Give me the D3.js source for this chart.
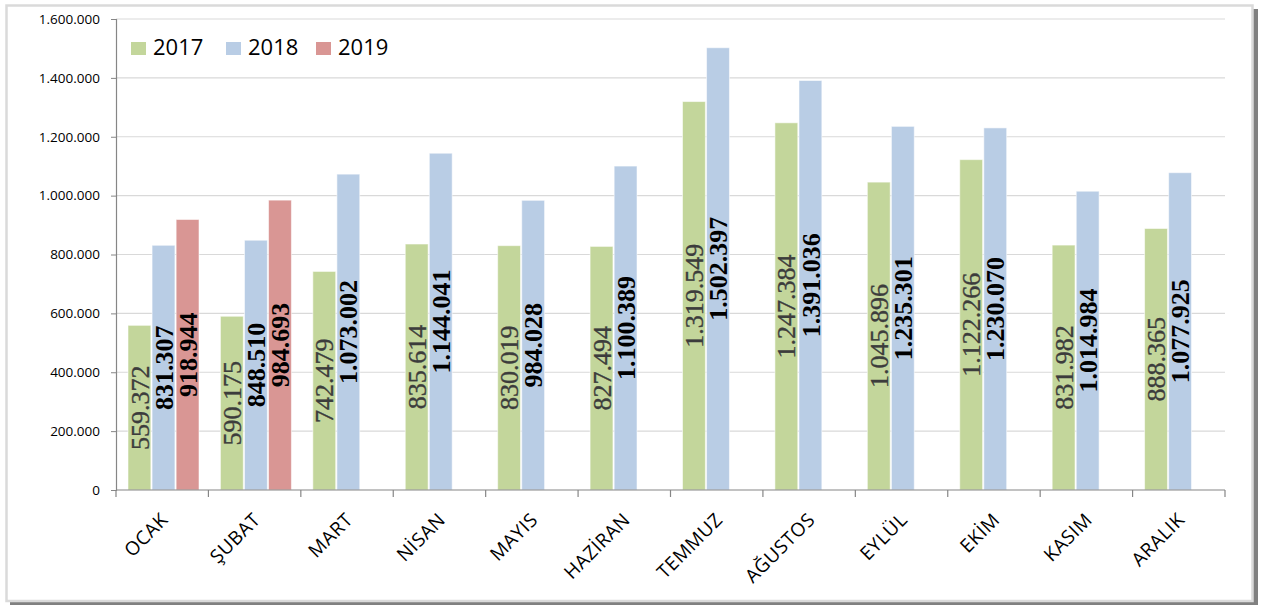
<!DOCTYPE html>
<html>
<head>
<meta charset="utf-8">
<script src="https://cdn.jsdelivr.net/npm/d3@7"></script>
<style>
  body { margin: 0; background: #fff; }
  svg { display: block; }
</style>
</head>
<body>
<div id="chart"></div>
<script>
const months = ['OCAK', 'ŞUBAT', 'MART', 'NİSAN', 'MAYIS', 'HAZİRAN', 'TEMMUZ', 'AĞUSTOS', 'EYLÜL', 'EKİM', 'KASIM', 'ARALIK'];
const series = ['2017', '2018', '2019'];
const values2017 = [559372, 590175, 742479, 835614, 830019, 827494, 1319549, 1247384, 1045896, 1122266, 831982, 888365];
const values2018 = [831307, 848510, 1073002, 1144041, 984028, 1100389, 1502397, 1391036, 1235301, 1230070, 1014984, 1077925];
const values2019 = [918944, 984693, null, null, null, null, null, null, null, null, null, null];
const yTicks = [0, 200000, 400000, 600000, 800000, 1000000, 1200000, 1400000, 1600000];

const colors = { '2017': '#c3d69b', '2018': '#b9cde5', '2019': '#d99694' };
const labelStyle = {
  '2017': { fill: '#3c3c3c', weight: 'normal', stroke: 0.35 },
  '2018': { fill: '#000', weight: 'bold', stroke: 0 },
  '2019': { fill: '#000', weight: 'bold', stroke: 0 }
};

const width = 1272;
const height = 606;
const plot = { left: 116, right: 1225, top: 19, bottom: 490 };

const locale = d3.formatLocale({ decimal: ',', thousands: '.', grouping: [3], currency: ['', ''] });
const fmt = locale.format(',d');

const svg = d3.select('#chart')
  .append('svg')
  .attr('width', width)
  .attr('height', height);

// FRAME WITH SHADOW
svg.append('rect')
  .attr('x', 10).attr('y', 9)
  .attr('width', 1248).attr('height', 596)
  .attr('fill', '#808080');

svg.append('rect')
  .attr('x', 6.5).attr('y', 5.5)
  .attr('width', 1246).attr('height', 595.5)
  .attr('fill', '#fff')
  .attr('stroke', '#dadada')
  .attr('stroke-width', 2.5);

// SCALES
const x0 = d3.scaleBand()
  .domain(months)
  .range([plot.left, plot.right])
  .padding(0);

const x1 = d3.scaleBand()
  .domain(series)
  .range([12, 83])
  .paddingInner(0.05);

const y = d3.scaleLinear()
  .domain([0, 1600000])
  .range([plot.bottom, plot.top]);

// GRIDLINES
svg.append('g')
  .selectAll('line')
  .data(yTicks.filter(d => d > 0))
  .enter()
  .append('line')
  .attr('x1', plot.left)
  .attr('x2', plot.right)
  .attr('y1', d => y(d))
  .attr('y2', d => y(d))
  .attr('stroke', '#d9d9d9')
  .attr('stroke-width', 1.2);

// BARS
const rows = months.map((m, i) => ({
  month: m,
  values: [
    { key: '2017', value: values2017[i] },
    { key: '2018', value: values2018[i] },
    { key: '2019', value: values2019[i] }
  ].filter(d => d.value != null)
}));

const groups = svg.append('g')
  .selectAll('g')
  .data(rows)
  .enter()
  .append('g')
  .attr('transform', d => `translate(${x0(d.month)}, 0)`);

groups.selectAll('rect')
  .data(d => d.values)
  .enter()
  .append('rect')
  .attr('x', d => x1(d.key))
  .attr('y', d => y(d.value))
  .attr('width', x1.bandwidth())
  .attr('height', d => y(0) - y(d.value))
  .attr('fill', d => colors[d.key])
  .attr('stroke', 'rgba(255,255,255,0.55)')
  .attr('stroke-width', 1);

// BAR LABELS (rotated, centred in bar)
groups.selectAll('text')
  .data(d => d.values)
  .enter()
  .append('text')
  .attr('transform', d => {
    const cx = x1(d.key) + x1.bandwidth() / 2;
    const cy = (y(d.value) + y(0)) / 2;
    return `translate(${cx}, ${cy}) rotate(-90)`;
  })
  .attr('text-anchor', 'middle')
  .attr('dy', '0.35em')
  .style('font-family', '"Liberation Serif", "Times New Roman", serif')
  .style('font-size', '26px')
  .style('font-weight', d => labelStyle[d.key].weight)
  .attr('fill', d => labelStyle[d.key].fill)
  .attr('stroke', d => labelStyle[d.key].fill)
  .attr('stroke-width', d => labelStyle[d.key].stroke)
  .text(d => fmt(d.value));

// Y AXIS
const yAxis = d3.axisLeft(y)
  .tickValues(yTicks)
  .tickSize(5)
  .tickPadding(11)
  .tickFormat(fmt);

const yG = svg.append('g')
  .attr('transform', `translate(${plot.left}, 0)`)
  .call(yAxis);

yG.select('.domain').attr('stroke', '#868686').attr('stroke-width', 1.2);
yG.selectAll('.tick line').attr('stroke', '#868686');
yG.selectAll('.tick text')
  .attr('fill', '#000')
  .style('font-family', '"Open Sans", sans-serif')
  .style('font-size', '13.5px');

// X AXIS
const xG = svg.append('g');

xG.append('line')
  .attr('x1', plot.left)
  .attr('x2', plot.right)
  .attr('y1', plot.bottom)
  .attr('y2', plot.bottom)
  .attr('stroke', '#868686')
  .attr('stroke-width', 1.2);

xG.selectAll('.xtick')
  .data(months.map(m => x0(m)).concat([plot.right]))
  .enter()
  .append('line')
  .attr('x1', d => d)
  .attr('x2', d => d)
  .attr('y1', plot.bottom)
  .attr('y2', plot.bottom + 7)
  .attr('stroke', '#868686')
  .attr('stroke-width', 1.2);

xG.selectAll('.xlabel')
  .data(months)
  .enter()
  .append('text')
  .attr('transform', d => `translate(${x0(d) + x0.bandwidth() / 2 + 7}, ${plot.bottom + 31}) rotate(-45)`)
  .attr('text-anchor', 'end')
  .style('font-family', '"Open Sans", sans-serif')
  .style('font-size', '19px')
  .style('letter-spacing', '0.5px')
  .attr('fill', '#000')
  .text(d => d);

// LEGEND
const legendX = [131, 226, 316];
const legend = svg.append('g')
  .selectAll('g')
  .data(series)
  .enter()
  .append('g')
  .attr('transform', (d, i) => `translate(${legendX[i]}, 42)`);

legend.append('rect')
  .attr('width', 15)
  .attr('height', 13)
  .attr('fill', d => colors[d]);

legend.append('text')
  .attr('x', 22)
  .attr('y', 13)
  .style('font-family', '"Open Sans", sans-serif')
  .style('font-size', '22px')
  .attr('fill', '#000')
  .text(d => d);
</script>
</body>
</html>
